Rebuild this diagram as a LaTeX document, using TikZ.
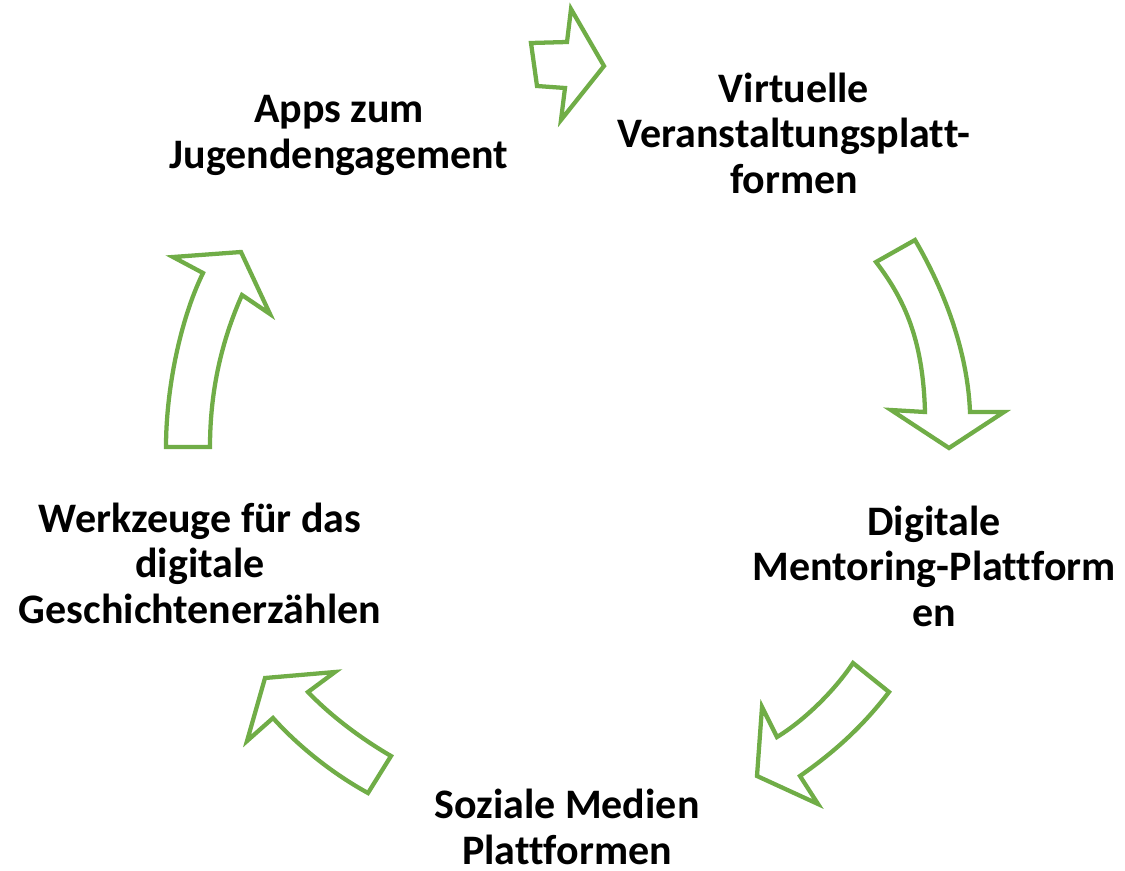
\documentclass[tikz,border=0pt]{standalone}
\usepackage{fontspec}
\setmainfont[Ligatures=NoCommon]{Carlito}
\definecolor{arrowgreen}{HTML}{70AD47}
\begin{document}
\begin{tikzpicture}[x=0.75pt,y=-0.75pt,
  cyclearrow/.style={draw=arrowgreen,line width=3.2pt,line join=miter,fill=white},
  lbl/.style={font=\bfseries\fontsize{31.5pt}{34pt}\selectfont,align=center,anchor=base,inner sep=0pt}]
\useasboundingbox (0,0) rectangle (1125,871);
% labels (anchored at the baseline of the last line)
\node[lbl] (apps) at (339,168) {Apps zum\\Jugendengagement};
\node[lbl] (virt) at (794,193) {Virtuelle\\Veranstaltungsplatt-\\formen};
\node[lbl] (ment) at (934,626) {Digitale\\Mentoring-Plattform\\en};
\node[lbl,text depth=0pt] (soz) at (567,864) {Soziale Medien\\Plattformen};
\node[lbl] (werk) at (200,623) {Werkzeuge für das\\digitale\\Geschichtenerzählen};
% arrows
\draw[cyclearrow] (531,43) -- (567,42) -- (571,9) -- (604,66) -- (561,120) -- (565,88) -- (537,86) -- cycle;
\draw[cyclearrow] (876,262) -- (915,240) .. controls (950,300) and (968,360) .. (970,412)
  -- (1004,412) -- (949,448) -- (891,410) -- (925,412)
  .. controls (923,340) and (905,300) .. (876,262) -- cycle;
\draw[cyclearrow] (853,663) -- (889,692) .. controls (860,730) and (830,755) .. (800,776)
  -- (818,804) -- (757,776) -- (762,707) -- (777,737)
  .. controls (805,720) and (835,690) .. (853,663) -- cycle;
\draw[cyclearrow] (368,793) -- (391,756) .. controls (360,738) and (330,715) .. (308,692)
  -- (335,672) -- (265,678) -- (247,741) -- (273,718)
  .. controls (300,748) and (335,775) .. (368,793) -- cycle;
\draw[cyclearrow] (166,447) -- (210,447) .. controls (210,390) and (222,340) .. (242,295)
  -- (270,314) -- (241,252) -- (173,257) -- (203,273)
  .. controls (180,320) and (166,390) .. (166,447) -- cycle;
\end{tikzpicture}
\end{document}
